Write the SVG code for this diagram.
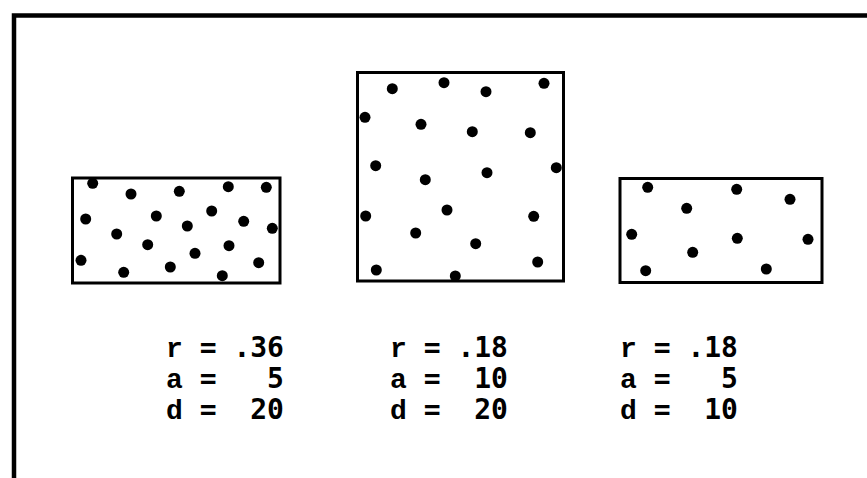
<svg xmlns="http://www.w3.org/2000/svg" width="867" height="478" viewBox="0 0 867 478">
<style>
.box{fill:#fff;stroke:#000;stroke-width:3}
.frame{fill:none;stroke:#000;stroke-width:4.5}
.dot{fill:#000}
.lbl{font-family:"DejaVu Sans Mono","Liberation Mono",monospace;font-size:28px;font-weight:bold;fill:#000}
.lt{font-family:"Liberation Mono","DejaVu Sans Mono",monospace}
</style>
<rect width="867" height="478" fill="#fff"/>
<path class="frame" d="M14 478 V15.5 H867"/>
<g id="connectors"/>
<g id="panel-a">
<rect class="box" x="72.5" y="178" width="207.5" height="105"/>
<g class="dot">
<circle cx="92.7" cy="183.3" r="5.5"/><circle cx="131" cy="194" r="5.5"/><circle cx="179.3" cy="191.3" r="5.5"/><circle cx="228.3" cy="186.7" r="5.5"/><circle cx="266.3" cy="187.3" r="5.5"/>
<circle cx="85.7" cy="219" r="5.5"/><circle cx="156.3" cy="216" r="5.5"/><circle cx="211.7" cy="211" r="5.5"/><circle cx="243.7" cy="221.3" r="5.5"/><circle cx="272.3" cy="228.3" r="5.5"/>
<circle cx="187.3" cy="226" r="5.5"/><circle cx="116.7" cy="234" r="5.5"/><circle cx="147.7" cy="244.7" r="5.5"/><circle cx="229" cy="245.7" r="5.5"/><circle cx="195" cy="253.3" r="5.5"/>
<circle cx="81" cy="260.3" r="5.5"/><circle cx="258.7" cy="262.7" r="5.5"/><circle cx="123.7" cy="272.3" r="5.5"/><circle cx="170.3" cy="267" r="5.5"/><circle cx="222.3" cy="275.7" r="5.5"/>
</g>
<text class="lbl" xml:space="preserve"><tspan x="166" y="357"><tspan class="lt">r</tspan> = .36</tspan><tspan x="166" y="388"><tspan class="lt">a</tspan> =   5</tspan><tspan x="166" y="419"><tspan class="lt">d</tspan> =  20</tspan></text>
</g>
<g id="panel-b">
<rect class="box" x="357.5" y="72.5" width="206" height="208.5"/>
<g class="dot">
<circle cx="392.3" cy="88.7" r="5.5"/><circle cx="444" cy="82.7" r="5.5"/><circle cx="486" cy="91.7" r="5.5"/><circle cx="544" cy="83.3" r="5.5"/>
<circle cx="365" cy="117.3" r="5.5"/><circle cx="421" cy="124.3" r="5.5"/><circle cx="472.3" cy="131.7" r="5.5"/><circle cx="530.3" cy="132.7" r="5.5"/>
<circle cx="375.7" cy="165.7" r="5.5"/><circle cx="425.3" cy="179.7" r="5.5"/><circle cx="487" cy="172.7" r="5.5"/><circle cx="556.3" cy="167.7" r="5.5"/>
<circle cx="365.7" cy="216" r="5.5"/><circle cx="447" cy="210" r="5.5"/><circle cx="533.7" cy="216.3" r="5.5"/><circle cx="415.7" cy="233" r="5.5"/>
<circle cx="475.7" cy="243.7" r="5.5"/><circle cx="376.3" cy="270" r="5.5"/><circle cx="455.3" cy="276" r="5.5"/><circle cx="537.7" cy="262" r="5.5"/>
</g>
<text class="lbl" xml:space="preserve"><tspan x="390" y="357"><tspan class="lt">r</tspan> = .18</tspan><tspan x="390" y="388"><tspan class="lt">a</tspan> =  10</tspan><tspan x="390" y="419"><tspan class="lt">d</tspan> =  20</tspan></text>
</g>
<g id="panel-c">
<rect class="box" x="620" y="178.5" width="202" height="104"/>
<g class="dot">
<circle cx="647.7" cy="187.3" r="5.5"/><circle cx="736.7" cy="189.3" r="5.5"/><circle cx="790" cy="199.3" r="5.5"/><circle cx="686.7" cy="208.3" r="5.5"/>
<circle cx="631.7" cy="234.3" r="5.5"/><circle cx="737.3" cy="238.3" r="5.5"/><circle cx="808" cy="239.3" r="5.5"/><circle cx="692.7" cy="252.3" r="5.5"/>
<circle cx="645.7" cy="270.7" r="5.5"/><circle cx="766.3" cy="269" r="5.5"/>
</g>
<text class="lbl" xml:space="preserve"><tspan x="620" y="357"><tspan class="lt">r</tspan> = .18</tspan><tspan x="620" y="388"><tspan class="lt">a</tspan> =   5</tspan><tspan x="620" y="419"><tspan class="lt">d</tspan> =  10</tspan></text>
</g>
</svg>
